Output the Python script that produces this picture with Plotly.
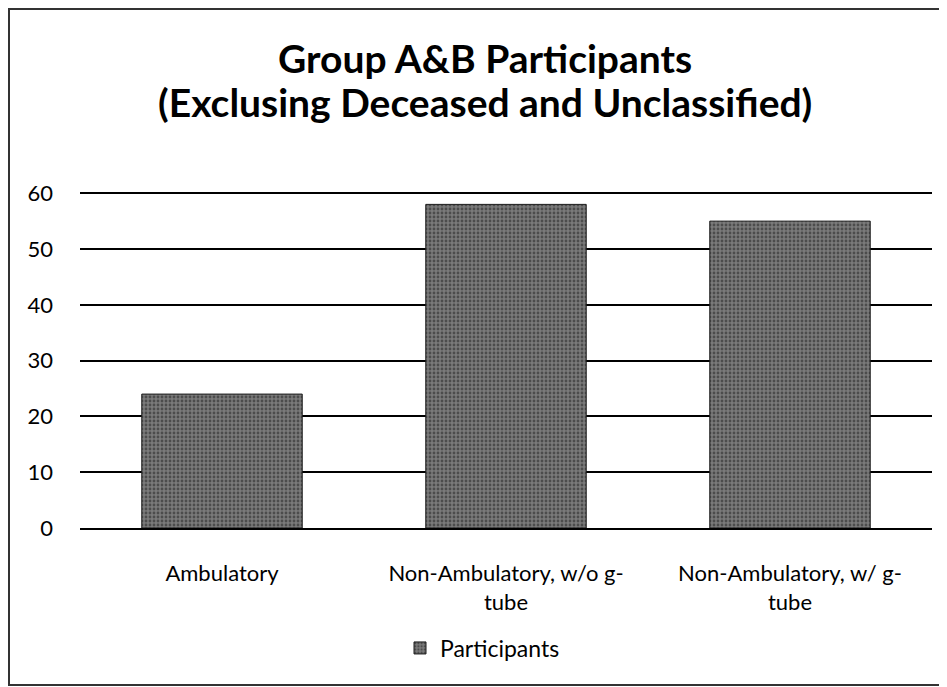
import plotly.graph_objects as go

categories = ["Ambulatory", "Non-Ambulatory, w/o g-<br>tube", "Non-Ambulatory, w/ g-<br>tube"]
participants = [24, 58, 55]
y_ticks = [0, 10, 20, 30, 40, 50, 60]
title_lines = ["Group A&B Participants", "(Exclusing Deceased and Unclassified)"]

FONT = "Lato, 'Open Sans', sans-serif"
W, H = 939, 679
L, R, T, B = 72, 15, 183, 159
PH = H - T - B

fig = go.Figure()
fig.add_trace(go.Bar(
    x=categories, y=participants, name="Participants",
    marker=dict(color="#5f5f5f", line=dict(color="#1a1a1a", width=1),
                pattern=dict(shape=".", fgcolor="#1e1e1e", bgcolor="#7a7a7a", size=4, solidity=0.4)),
    width=0.565,
))

fig.update_layout(
    width=W, height=H,
    paper_bgcolor="white", plot_bgcolor="white",
    margin=dict(l=L, r=R, t=T, b=B),
    font=dict(family=FONT, size=22, color="black"),
    showlegend=True,
    legend=dict(orientation="h", x=(392 - L) / (W - L - R), xanchor="left",
                y=(PH - (640 - T)) / PH, yanchor="middle", itemwidth=30,
                font=dict(size=23)),
)
for txt, yc in zip(title_lines, [50, 94]):
    fig.add_annotation(text="<b>%s</b>" % txt, xref="paper", yref="paper",
                       x=(477 - L) / (W - L - R), y=(PH - (yc - T)) / PH,
                       xanchor="center", yanchor="middle", showarrow=False,
                       font=dict(family=FONT, size=39, color="black"))

fig.update_xaxes(showline=True, linecolor="black", linewidth=2, ticks="", showgrid=False,
                 ticklabelstandoff=25, tickfont=dict(size=22))
fig.update_yaxes(range=[0, 60.4], tickvals=y_ticks, showgrid=True, gridcolor="black", gridwidth=2,
                 zeroline=False, showline=False, ticks="", ticklabelstandoff=26,
                 tickfont=dict(size=22))

fig.add_shape(type="rect", xref="paper", yref="paper",
              x0=(1 - L) / (W - L - R), x1=(W - 1 - L) / (W - L - R),
              y0=(PH - (H - 2 - T)) / PH, y1=(PH - (1 - T)) / PH,
              line=dict(color="#333", width=2))

fig.write_html("out.html")
